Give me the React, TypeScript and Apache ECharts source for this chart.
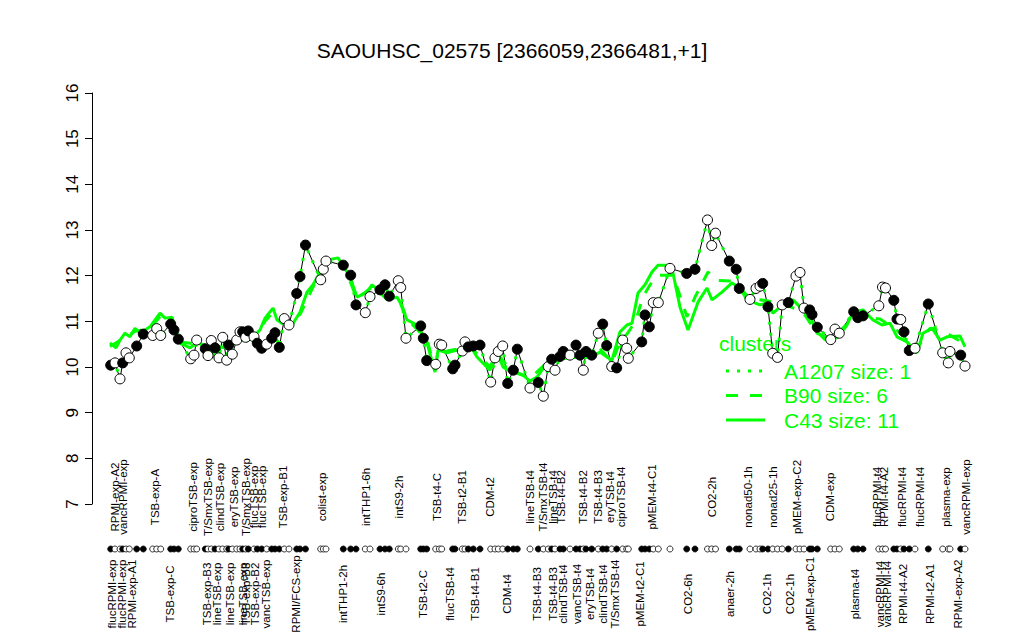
import React, { useEffect, useRef } from 'react';
import * as echarts from 'echarts';

const chartTitle = 'SAOUHSC_02575 [2366059,2366481,+1]';

// sample positions along the x axis and expression values
const samplePos = [
  18.7, 23, 28, 30.7, 34, 37.3, 44.7, 51.3, 60.7, 64.7,
  68.7, 78.7, 82, 86.3, 98.7, 102, 104.7, 113.3, 116, 119.3,
  123, 127, 130.7, 134.7, 136.7, 140.3, 144.7, 148, 150.7, 153.7,
  156.3, 162, 165.3, 169.7, 174.7, 179.7, 183, 187.3, 192.3, 197,
  204.7, 208, 213.5, 228.7, 231.3, 234, 251.3, 258.7, 264, 273.3,
  278, 288, 293, 297.3, 306.3, 308.7, 314, 328.7, 331.3, 334.7,
  343.7, 347.3, 349.7, 360.7, 363, 370.3, 373, 376.3, 381.3, 388,
  398.7, 403, 406.3, 410.7, 415.7, 421.3, 425.3, 438, 446.3, 451.3,
  456.3, 459.7, 463, 468, 471.3, 478, 484, 488, 491.3, 494,
  499.7, 506.3, 510.7, 514.7, 519.7, 524.7, 530.7, 534.7, 536.3, 549.7,
  553, 557.3, 561.3, 566.3, 578, 594.7, 603, 615.5, 619.7, 623.5,
  637.3, 644.2, 647.3, 658, 664, 668, 670.7, 676, 680.7, 685.5,
  690.2, 696.3, 704, 708, 712, 717.7, 720, 725.3, 738.7, 743,
  747.3, 761.7, 765.8, 771, 786.8, 790.5, 793.5, 801.8, 805, 808.7,
  812, 817.3, 823, 836.3, 850.7, 856.3, 858, 868.7, 873,
];
const sampleValue = [
  10.04, 10.09, 9.74, 10.09, 10.31, 10.2, 10.46, 10.72, 10.69, 10.84,
  10.69, 10.94, 10.81, 10.61, 10.18, 10.26, 10.59, 10.4, 10.25, 10.58,
  10.42, 10.2, 10.65, 10.15, 10.48, 10.28, 10.59, 10.77, 10.77, 10.65,
  10.79, 10.66, 10.52, 10.41, 10.5, 10.63, 10.75, 10.43, 11.06, 10.92,
  11.61, 11.98, 12.67, 11.91, 12.14, 12.32, 12.23, 12.01, 11.36, 11.19,
  11.54, 11.69, 11.8, 11.55, 11.89, 11.74, 10.63, 10.9, 10.63, 10.14,
  10.06, 10.5, 10.48, 9.96, 10.04, 10.35, 10.55, 10.44, 10.46, 10.48,
  9.67, 10.2, 10.34, 10.46, 9.64, 9.93, 10.39, 9.54, 9.66, 9.36,
  10.01, 10.17, 9.93, 10.23, 10.34, 10.26, 10.48, 10.26, 9.93, 10.34,
  10.26, 10.74, 10.94, 10.47, 10.01, 9.98, 10.59, 10.41, 10.19, 10.55,
  11.14, 10.88, 11.41, 11.41, 12.16, 12.05, 12.14, 13.22, 12.66, 12.93,
  12.32, 12.14, 11.72, 11.48, 11.72, 11.77, 11.83, 11.32, 10.3, 10.21,
  11.36, 11.41, 11.99, 12.07, 11.29, 11.25, 11.15, 10.87, 10.6, 10.83,
  10.74, 11.21, 11.08, 11.12, 11.34, 11.75, 11.73, 11.46, 11.05, 11.04,
  10.77, 10.36, 10.41, 11.38, 10.31, 10.09, 10.34, 10.26, 10.02,
];
// B = filled (black) marker, W = open (white) marker
const sampleFill = (
  'BWWBWWBBWW' + 'WBBBWWWBWW' + 'BWWWBWWWBW' + 'BWBBWBBBWW' + 'BBBWWWBBBW' +
  'WBBBWWWBBB' + 'WWWBBWWBBB' + 'WWWWBBBWBW' + 'WBWBBWBBWB' + 'BWBBWBWWWB' +
  'BBWWWBBWWW' + 'BBBWWWBBWW' + 'WBWWWBBBWW' + 'WBBBWWWBBW' + 'BBWBWWWBW'
).split('');

// cluster mean profiles
const c43Pos = [18, 24, 28, 33, 38, 43, 48, 58, 68, 73, 80, 88, 98, 105, 118, 123, 128, 133, 141, 151, 161, 168, 173, 181, 185, 190, 200, 208, 215, 221, 235, 246, 251, 258, 265, 275, 280, 286, 295, 305, 308, 315, 325, 335, 343, 346, 355, 365, 378, 385, 398, 405, 411, 416, 431, 438, 445, 455, 465, 475, 488, 500, 508, 515, 520, 528, 535, 540, 546, 553, 560, 566, 575, 581, 588, 596, 606, 615, 620, 630, 640, 648, 655, 668, 675, 681, 688, 695, 701, 711, 720, 725, 733, 745, 755, 761, 771, 781, 790, 798, 805, 815, 825, 831, 840, 848, 855, 868, 873];
const c43Value = [10.53, 10.42, 10.59, 10.74, 10.66, 10.85, 10.74, 10.88, 11.18, 11.07, 11.09, 10.53, 10.42, 10.53, 10.44, 10.2, 10.44, 10.42, 10.55, 10.59, 10.66, 10.81, 11.07, 11.29, 11.03, 10.96, 10.92, 11.2, 11.64, 11.8, 12.34, 12.39, 12.23, 11.97, 11.53, 11.64, 11.8, 11.69, 11.47, 11.53, 11.42, 11.03, 10.92, 10.53, 9.89, 10.37, 10.31, 10.37, 10.48, 10.22, 9.93, 10.31, 10.0, 9.93, 9.82, 9.69, 9.78, 10.09, 10.15, 10.22, 10.2, 10.22, 10.33, 10.22, 10.15, 10.77, 10.92, 10.96, 11.62, 11.8, 12.08, 12.23, 12.23, 12.06, 11.31, 10.81, 11.42, 11.73, 11.47, 11.64, 11.84, 11.73, 11.47, 11.36, 11.4, 11.18, 11.31, 11.4, 11.47, 11.25, 11.03, 10.74, 10.66, 10.64, 10.92, 11.2, 11.25, 11.03, 10.92, 10.96, 10.66, 10.55, 10.31, 10.74, 10.85, 10.59, 10.66, 10.68, 10.44];
const b90Pos = [18, 33, 43, 58, 68, 80, 88, 105, 123, 141, 161, 173, 181, 190, 208, 221, 235, 251, 265, 280, 295, 308, 315, 335, 343, 355, 378, 398, 405, 418, 438, 455, 475, 500, 508, 520, 528, 536, 544, 551, 560, 566, 580, 585, 595, 603, 616, 624, 641, 648, 658, 675, 695, 711, 720, 733, 745, 761, 773, 788, 805, 815, 825, 838, 854, 873];
const b90Value = [10.45, 10.65, 10.78, 10.85, 11.1, 11.05, 10.55, 10.5, 10.3, 10.5, 10.62, 11.0, 11.2, 10.95, 11.15, 11.75, 12.3, 12.25, 11.5, 11.75, 11.5, 11.45, 11.05, 10.6, 9.95, 10.35, 10.45, 10.0, 10.3, 9.95, 9.75, 10.1, 10.2, 10.25, 10.4, 10.1, 10.55, 10.75, 11.03, 11.54, 11.87, 12.01, 12.01, 11.75, 11.1, 11.53, 12.08, 11.9, 11.88, 11.73, 11.5, 11.45, 11.35, 11.2, 10.9, 10.6, 10.65, 11.15, 11.1, 11.05, 10.8, 10.6, 10.4, 10.85, 10.75, 10.5];

const yTicks = [7, 8, 9, 10, 11, 12, 13, 14, 15, 16];

const topLabels = ['RPMI-exp-A2', 'vancRPMI-exp', 'TSB-exp-A', 'ciproTSB-exp', 'T/SmxTSB-exp', 'clindTSB-exp', 'eryTSB-exp', 'T/SmxTSB-exp', 'flucTSB-exp', 'flucTSB-exp', 'TSB-exp-B1', 'colist-exp', 'intTHP1-6h', 'intS9-2h', 'TSB-t4-C', 'TSB-t2-B1', 'CDM-t2', 'lineTSB-t4', 'T/SmxTSB-t4', 'lineTSB-t4', 'TSB-t4-B2', 'TSB-t4-B2', 'TSB-t4-B3', 'eryTSB-t4', 'ciproTSB-t4', 'pMEM-t4-C1', 'CO2-2h', 'nonad50-1h', 'nonad25-1h', 'pMEM-exp-C2', 'CDM-exp', 'flucRPMI-t4', 'RPMI-t4-A2', 'flucRPMI-t4', 'flucRPMI-t4', 'plasma-exp', 'vancRPMI-exp'];
const topLabelPos = [23, 31, 63, 101, 116, 128, 142, 154, 162, 170, 191, 230, 274, 307, 345, 370, 398, 438, 451, 461, 469, 491, 506, 518, 529, 560, 620, 656, 681, 705, 738, 785, 792, 810, 828, 854, 874];
const bottomLabels = ['flucRPMI-exp', 'flucRPMI-exp', 'RPMI-exp-A1', 'TSB-exp-C', 'TSB-exp-B3', 'lineTSB-exp', 'lineTSB-exp', 'lineTSB-exp', 'TSB-exp-B3', 'TSB-exp-B2', 'vancTSB-exp', 'RPMI/FCS-exp', 'intTHP1-2h', 'intS9-6h', 'TSB-t2-C', 'flucTSB-t4', 'TSB-t4-B1', 'CDM-t4', 'TSB-t4-B3', 'TSB-t4-B3', 'clindTSB-t4', 'vancTSB-t4', 'eryTSB-t4', 'clindTSB-t4', 'T/SmxTSB-t4', 'pMEM-t2-C1', 'CO2-6h', 'anaer-2h', 'CO2-1h', 'CO2-1h', 'pMEM-exp-C1', 'plasma-t4', 'vancRPMI-t4', 'vancRPMI-t4', 'RPMI-t4-A2', 'RPMI-t2-A1', 'RPMI-exp-A2'];
const bottomLabelPos = [20, 30, 40, 78, 115, 125, 138, 151, 154, 163, 174, 204, 251, 289, 331, 358, 383, 415, 445, 461, 471, 485, 498, 511, 523, 548, 596, 638, 675, 698, 718, 763, 788, 795, 811, 838, 866];

const legendTitle = 'clusters';
const legendNames = ['A1207 size: 1', 'B90 size: 6', 'C43 size: 11'];

const GREEN = '#00ff00';
const FONT = '"Liberation Sans", Arial, Helvetica, sans-serif';

export default function App() {
  const ref = useRef<HTMLDivElement>(null);
  useEffect(() => {
    if (!ref.current) return;
    const chart = echarts.init(ref.current, null, { renderer: 'svg' });
    const pts = samplePos.map((x, i) => [x, sampleValue[i]]);
    const markerData = samplePos.map((x, i) => ({
      value: [x, sampleValue[i]],
      itemStyle: { color: sampleFill[i] === 'B' ? '#000' : '#fff', borderColor: '#000', borderWidth: 1, opacity: 1 },
    }));
    const rowData = samplePos.map((x, i) => ({
      value: [x, 0.5],
      itemStyle: { color: sampleFill[i] === 'B' ? '#000' : '#fff', borderColor: '#000', borderWidth: 0.8, opacity: 1 },
    }));
    chart.setOption({
      animation: false,
      title: {
        text: chartTitle,
        left: 'center',
        top: 35,
        textStyle: { fontSize: 21, fontWeight: 'normal', fontFamily: FONT, color: '#000' },
      },
      grid: [
        { left: 92, right: 41, top: 93, height: 411 },
        { left: 92, right: 41, top: 544, height: 10 },
      ],
      xAxis: [
        { type: 'value', min: 0, max: 891, show: false },
        { type: 'value', gridIndex: 1, min: 0, max: 891, show: false },
      ],
      yAxis: [
        {
          type: 'value',
          min: yTicks[0],
          max: yTicks[yTicks.length - 1],
          interval: 1,
          axisLine: { show: true, lineStyle: { color: '#000', width: 1 } },
          axisTick: { show: true, length: 7, lineStyle: { color: '#000' } },
          axisLabel: { rotate: 90, fontSize: 17, color: '#000', margin: 11, fontFamily: FONT },
          splitLine: { show: false },
        },
        { type: 'value', gridIndex: 1, min: 0, max: 1, show: false },
      ],
      series: [
        {
          type: 'line', data: pts, symbol: 'none', z: 1,
          lineStyle: { color: '#000', width: 1 },
        },
        {
          type: 'line', data: c43Pos.map((x, i) => [x, c43Value[i]]), symbol: 'none', z: 2,
          lineStyle: { color: GREEN, width: 3 },
        },
        {
          type: 'line', data: b90Pos.map((x, i) => [x, b90Value[i]]), symbol: 'none', z: 2,
          lineStyle: { color: GREEN, width: 3, type: [12, 12] },
        },
        {
          type: 'line', data: pts, symbol: 'none', z: 3,
          lineStyle: { color: GREEN, width: 3, type: [3, 8] },
        },
        {
          type: 'scatter', data: markerData, symbol: 'circle', symbolSize: 10, z: 5,
          itemStyle: { opacity: 1 },
        },
        {
          type: 'scatter', xAxisIndex: 1, yAxisIndex: 1, data: rowData, symbol: 'circle', symbolSize: 6, z: 5,
          itemStyle: { opacity: 1 },
        },
      ],
    });

    const graphics: any[] = [];
    const labelStyle = (t: string) => ({
      text: t, fontSize: 11.5, fontFamily: FONT, fill: '#000',
      align: 'center', verticalAlign: 'middle', textAlign: 'center', textVerticalAlign: 'middle',
    });
    topLabels.forEach((t, i) => {
      const x = chart.convertToPixel({ xAxisIndex: 0 }, topLabelPos[i]) as number;
      graphics.push({ type: 'text', x, y: 497, rotation: Math.PI / 2, style: labelStyle(t) });
    });
    bottomLabels.forEach((t, i) => {
      const x = chart.convertToPixel({ xAxisIndex: 0 }, bottomLabelPos[i]) as number;
      graphics.push({ type: 'text', x, y: 594, rotation: Math.PI / 2, style: labelStyle(t) });
    });
    graphics.push({
      type: 'text', x: 719, y: 343,
      style: { text: legendTitle, fontSize: 21, fontFamily: FONT, fill: GREEN, align: 'left', verticalAlign: 'middle', textAlign: 'left', textVerticalAlign: 'middle' },
    });
    const dashes = [[3, 8], [12, 12], null];
    legendNames.forEach((t, i) => {
      const y = 371 + i * 24.5;
      graphics.push({
        type: 'line', shape: { x1: 726, y1: y, x2: 765, y2: y },
        style: { stroke: GREEN, lineWidth: 3, lineDash: dashes[i] || undefined },
      });
      graphics.push({
        type: 'text', x: 784, y,
        style: { text: t, fontSize: 21, fontFamily: FONT, fill: GREEN, align: 'left', verticalAlign: 'middle', textAlign: 'left', textVerticalAlign: 'middle' },
      });
    });
    chart.setOption({ graphic: graphics });

    return () => chart.dispose();
  }, []);
  return <div ref={ref} style={{ width: 1024, height: 640, position: 'absolute', left: 0, top: 0 }} />;
}
